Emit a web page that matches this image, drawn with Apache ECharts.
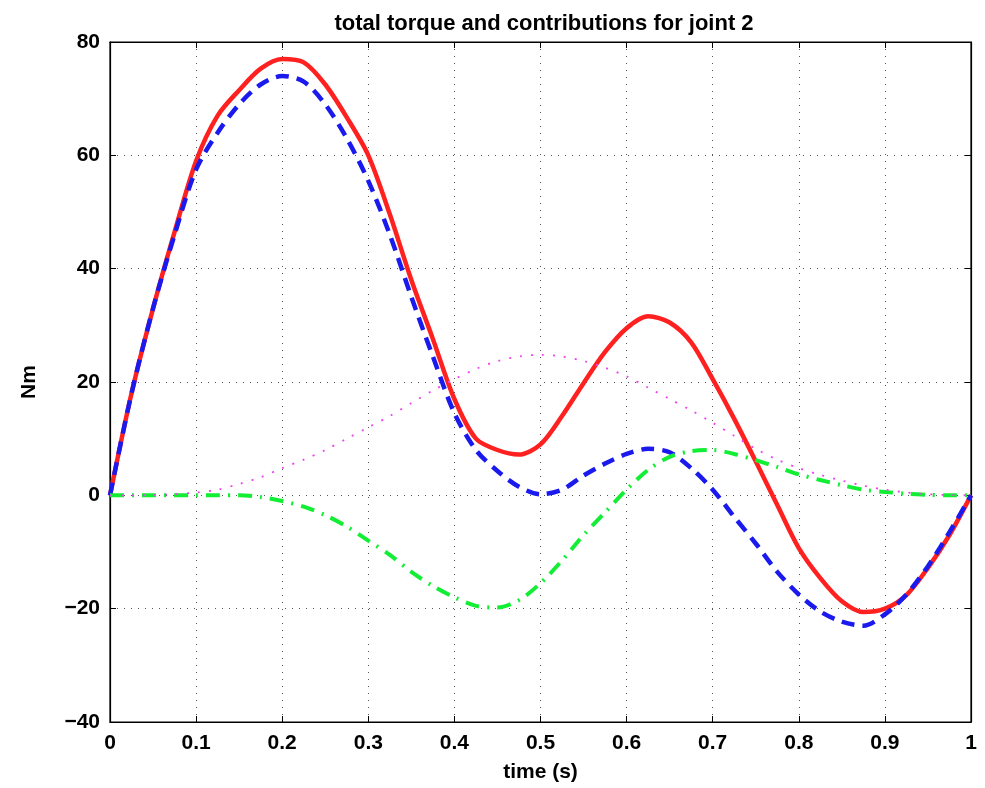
<!DOCTYPE html>
<html>
<head>
<meta charset="utf-8">
<script src="https://cdn.jsdelivr.net/npm/echarts@6/dist/echarts.min.js"></script>
<style>html,body{margin:0;padding:0;background:#fff}#c{width:985px;height:788px}</style>
</head>
<body>
<div id="c"></div>
<script>
const time = [0,0.025,0.05,0.075,0.1,0.125,0.15,0.175,0.2,0.225,0.25,0.275,0.3,0.325,0.35,0.375,0.4,0.425,0.45,0.475,0.5,0.525,0.55,0.575,0.6,0.625,0.65,0.675,0.7,0.725,0.75,0.775,0.8,0.825,0.85,0.875,0.9,0.925,0.95,0.975,1];
const totalTorque = [0,18,33,46.5,59,67,71.5,75.3,77,76.4,72.5,66.7,60,49.6,38,27.6,17,10,8,7.2,9,14,19.8,25.3,29.5,31.6,30.5,27,20.5,13.5,6,-1.7,-9.3,-14.6,-18.7,-20.6,-20,-17.6,-12.8,-7,0];
const inertial = [0,18,33,46,57.5,64,69,72.5,74,73,69,63,55.5,46,35,24.5,14.5,8,4.3,1.5,0.2,1,3.5,5.6,7.3,8.2,7.6,4.8,1,-3.8,-8.5,-13.5,-17.5,-20.5,-22.3,-23,-21,-17.5,-12.5,-6.5,0];
const coupling = [0,0,0,0,0,0,0,-0.3,-1,-2,-3.5,-5.5,-8,-10.5,-13.5,-16,-18,-19.5,-19.8,-18.5,-15.5,-11.5,-7,-3,1,4.5,6.8,7.8,8,7.3,6.2,5,3.7,2.7,1.8,1,0.6,0.3,0.1,0,0];
const gravity = [0,0,0.05,0.2,0.5,1,2,3.2,4.8,6.3,8,10,12,14,16.3,18.5,20.5,22.3,23.7,24.5,24.8,24.5,23.7,22.5,21,19,17,15,12.8,10.5,8.2,6.3,4.8,3.6,2.6,1.7,1,0.5,0.2,0.05,0];
const xTicks = {min:0,max:1,interval:0.1};
const yTicks = {min:-40,max:80,interval:20};

const zip = a => time.map((t,i)=>[t,a[i]]);
const font = 'Liberation Sans';
const labelStyle = {color:'#000',fontFamily:font,fontWeight:'bold',fontSize:21};
const gridLine = {show:true,lineStyle:{color:'#555',type:[1,6],width:1}};
const edgeAxis = {show:true,onZero:false,lineStyle:{color:'#000',width:1.2}};
const tick = {show:true,inside:true,length:6,lineStyle:{color:'#000'}};
const chart = echarts.init(document.getElementById('c'),null,{renderer:'canvas'});
chart.setOption({
  animation:false,
  backgroundColor:'#fff',
  title:{text:'total torque and contributions for joint 2',left:539,top:8,textAlign:'center',
    textStyle:{fontFamily:font,fontWeight:'bold',fontSize:22,color:'#000'}},
  grid:{left:110,right:14,top:42,bottom:64,containLabel:false,show:true,borderColor:'#000',borderWidth:1.2},
  xAxis:[{type:'value',min:xTicks.min,max:xTicks.max,interval:xTicks.interval,
    name:'time (s)',nameLocation:'middle',nameGap:40,
    nameTextStyle:{color:'#000',fontFamily:font,fontWeight:'bold',fontSize:21},
    axisLine:edgeAxis,axisTick:tick,
    axisLabel:{...labelStyle,margin:11,formatter:v=>String(+v.toFixed(1))},
    splitLine:gridLine},
    {type:'value',position:'top',min:xTicks.min,max:xTicks.max,interval:xTicks.interval,
    axisLine:edgeAxis,axisTick:tick,axisLabel:{show:false},splitLine:{show:false}}],
  yAxis:[{type:'value',min:yTicks.min,max:yTicks.max,interval:yTicks.interval,
    name:'Nm',nameLocation:'middle',nameGap:70,
    nameTextStyle:{color:'#000',fontFamily:font,fontWeight:'bold',fontSize:21},
    axisLine:edgeAxis,axisTick:tick,
    axisLabel:{...labelStyle,margin:10,formatter:v=>String(v).replace('-','\u2212')},
    splitLine:gridLine},
    {type:'value',position:'right',min:yTicks.min,max:yTicks.max,interval:yTicks.interval,
    axisLine:edgeAxis,axisTick:tick,axisLabel:{show:false},splitLine:{show:false}}],
  series:[
    {type:'line',data:zip(totalTorque),smooth:0.3,symbol:'none',z:2,
      lineStyle:{color:'#ff2020',width:4.5,type:'solid'}},
    {type:'line',data:zip(inertial),smooth:0.3,symbol:'none',z:3,
      lineStyle:{color:'#1a1aee',width:4.5,type:[13,8]}},
    {type:'line',data:zip(coupling),smooth:0.3,symbol:'none',z:4,
      lineStyle:{color:'#11ee33',width:4,type:[14,8,2,8]}},
    {type:'line',data:zip(gravity),smooth:0.3,symbol:'none',z:5,
      lineStyle:{color:'#ee44ee',width:1.8,type:[2,9]}}
  ]
});
</script>
</body>
</html>
